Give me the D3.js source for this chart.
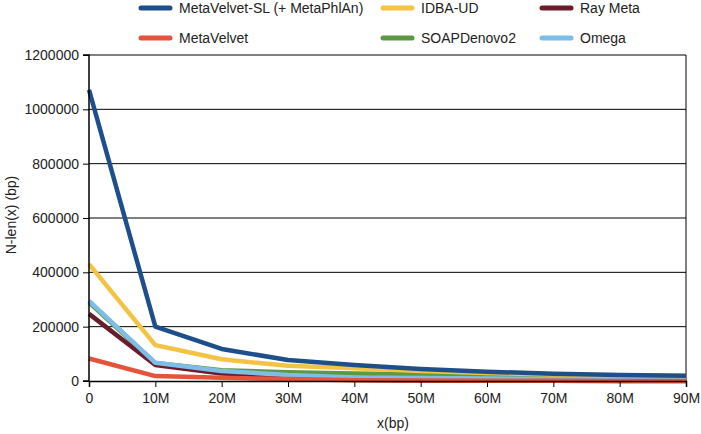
<!DOCTYPE html>
<html><head><meta charset="utf-8">
<script src="https://cdn.jsdelivr.net/npm/d3@7"></script>
<style>body{margin:0;background:#fff}svg{display:block;font-family:"Liberation Sans",Arial,sans-serif}</style>
</head><body><svg id="c" width="701" height="434"></svg>
<script>
const xValues = [0,10,20,30,40,50,60,70,80,90]; // millions of bp
const xTickLabels = ["0","10M","20M","30M","40M","50M","60M","70M","80M","90M"];
const yTicks = [0,200000,400000,600000,800000,1000000,1200000];
const seriesNames = ["MetaVelvet-SL (+ MetaPhlAn)","IDBA-UD","Ray Meta","MetaVelvet","SOAPDenovo2","Omega"];
const seriesColors = ["#1f4f8a","#f3c343","#6b1c2a","#e5533a","#5b9a43","#7dbde8"];
const metaVelvetSL = [1072000,200000,118000,77000,59000,44000,34000,27000,22000,19000];
const idbaUD      = [430000,132000,80000,56000,47000,37000,29000,24000,21000,18000];
const rayMeta     = [247000,59000,28000,14000,5000,2000,1000,500,300,200];
const metaVelvet  = [83000,18000,12000,7000,3000,1500,1000,500,300,200];
const soapDenovo2 = [290000,66000,40000,32000,28000,24000,20000,17000,15000,13000];
const omega       = [295000,67000,37000,22000,13000,11000,9000,7000,6000,6000];
const seriesData = [metaVelvetSL,idbaUD,rayMeta,metaVelvet,soapDenovo2,omega];
const drawOrder = [4,2,5,3,1,0];

const svg = d3.select("#c");
const m = {l:89,r:686,t:55,b:381};
const x = d3.scaleLinear().domain([0,90]).range([m.l,m.r]);
const y = d3.scaleLinear().domain([0,1200000]).range([m.b,m.t]);

// gridlines
svg.append("g").selectAll("line").data(yTicks.filter(d=>d>0)).join("line")
  .attr("x1",m.l).attr("x2",m.r).attr("y1",d=>y(d)).attr("y2",d=>y(d))
  .attr("stroke","#000").attr("stroke-width",1);
// right border
svg.append("line").attr("x1",m.r).attr("x2",m.r).attr("y1",m.t).attr("y2",m.b).attr("stroke","#000");

const line = d3.line().x((d,i)=>x(xValues[i])).y(d=>y(d));
drawOrder.forEach(k=>{
  svg.append("path").datum(seriesData[k]).attr("d",line)
    .attr("fill","none").attr("stroke",seriesColors[k]).attr("stroke-width",4.5)
    .attr("stroke-linejoin","round");
});

// axes
const ya = svg.append("g").attr("transform",`translate(${m.l},0)`)
  .call(d3.axisLeft(y).tickValues(yTicks).tickFormat(d3.format("d")).tickSize(6).tickPadding(4));
const xa = svg.append("g").attr("transform",`translate(0,${m.b})`)
  .call(d3.axisBottom(x).tickValues(xValues).tickFormat((d,i)=>xTickLabels[i]).tickSize(6).tickPadding(6));
[ya,xa].forEach(g=>{
  g.select(".domain").attr("stroke","#000").attr("stroke-width",1.5);
  g.selectAll(".tick line").attr("stroke","#000");
  g.selectAll("text").attr("font-size",14).attr("fill","#222").attr("font-family","Liberation Sans, Arial, sans-serif");
});
ya.select(".domain").attr("d",`M-6,${m.t}H0V${m.b}H-6`);

svg.append("text").attr("transform",`translate(11,215) rotate(-90)`)
  .attr("text-anchor","middle").attr("dy","0.35em").attr("font-size",14).attr("fill","#222").text("N-len(x) (bp)");
svg.append("text").attr("x",393).attr("y",428).attr("text-anchor","middle")
  .attr("font-size",14).attr("fill","#222").text("x(bp)");

// legend
const legCols = [141,383,542];
const legRows = [8,38];
seriesNames.forEach((n,i)=>{
  const cx = legCols[i%3], cy = legRows[Math.floor(i/3)];
  const g = svg.append("g").attr("transform",`translate(${cx},${cy})`);
  g.append("line").attr("x1",0).attr("x2",29).attr("y1",0).attr("y2",0)
    .attr("stroke",seriesColors[i]).attr("stroke-width",5).attr("stroke-linecap","round");
  g.append("text").attr("x",38).attr("y",0).attr("dy","0.35em").attr("font-size",14).attr("fill","#222").text(n);
});
</script></body></html>
